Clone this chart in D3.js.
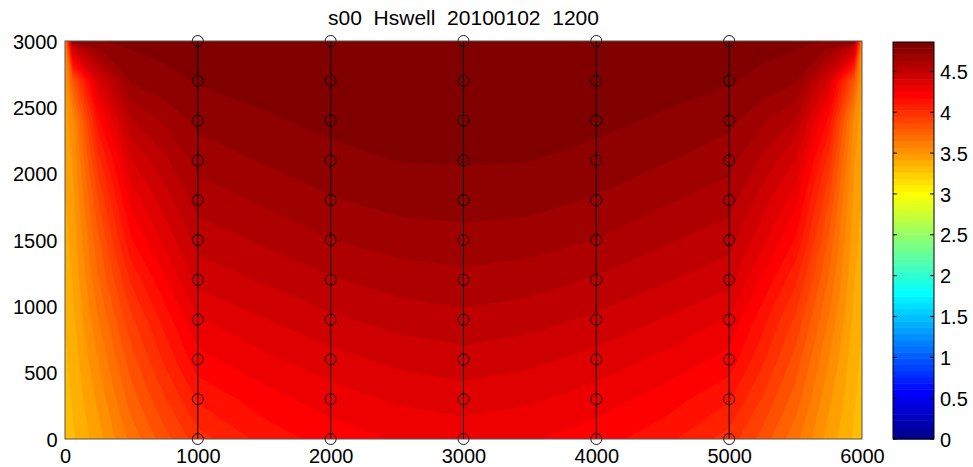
<!DOCTYPE html>
<html>
<head>
<meta charset="utf-8">
<script src="https://cdn.jsdelivr.net/npm/d3@7"></script>
<style>
body { margin: 0; background: #fff; }
text { font-family: "Liberation Sans", Arial, sans-serif; fill: #000; }
</style>
</head>
<body>
<svg id="chart" width="973" height="467"></svg>
<script>
var title = "s00  Hswell  20100102  1200";

// grid the field was read on (x columns, y rows)
var gridX = [0, 60, 250, 500, 750, 1000, 1500, 2000, 2500, 3000, 3500, 4000, 4500, 5000, 5250, 5500, 5750, 5940, 6000];
var gridY = [0, 300, 600, 900, 1200, 1500, 1800, 2100, 2400, 2700, 2940, 3000];

// Hswell values, one row per gridY (bottom to top)
var hswell = [
  [3.29, 3.33, 3.46, 3.67, 3.84, 3.99, 4.13, 4.21, 4.26, 4.28, 4.26, 4.21, 4.13, 3.99, 3.84, 3.67, 3.46, 3.33, 3.29],
  [3.31, 3.35, 3.51, 3.76, 3.94, 4.11, 4.22, 4.29, 4.34, 4.365, 4.34, 4.29, 4.22, 4.11, 3.94, 3.76, 3.51, 3.35, 3.31],
  [3.325, 3.37, 3.57, 3.84, 4.04, 4.225, 4.31, 4.375, 4.425, 4.45, 4.425, 4.375, 4.31, 4.225, 4.04, 3.84, 3.57, 3.37, 3.325],
  [3.345, 3.395, 3.64, 3.93, 4.13, 4.32, 4.40, 4.465, 4.51, 4.535, 4.51, 4.465, 4.40, 4.32, 4.13, 3.93, 3.64, 3.395, 3.345],
  [3.37, 3.42, 3.71, 4.04, 4.24, 4.43, 4.49, 4.547, 4.59, 4.61, 4.59, 4.547, 4.49, 4.43, 4.24, 4.04, 3.71, 3.42, 3.37],
  [3.39, 3.445, 3.78, 4.17, 4.35, 4.51, 4.57, 4.63, 4.665, 4.68, 4.665, 4.63, 4.57, 4.51, 4.35, 4.17, 3.78, 3.445, 3.39],
  [3.41, 3.47, 3.87, 4.28, 4.44, 4.59, 4.645, 4.70, 4.735, 4.745, 4.735, 4.70, 4.645, 4.59, 4.44, 4.28, 3.87, 3.47, 3.41],
  [3.43, 3.50, 3.99, 4.40, 4.54, 4.66, 4.715, 4.765, 4.785, 4.79, 4.785, 4.765, 4.715, 4.66, 4.54, 4.40, 3.99, 3.50, 3.43],
  [3.45, 3.55, 4.15, 4.55, 4.645, 4.73, 4.775, 4.80, 4.81, 4.815, 4.81, 4.80, 4.775, 4.73, 4.645, 4.55, 4.15, 3.55, 3.45],
  [3.47, 3.80, 4.40, 4.72, 4.765, 4.79, 4.81, 4.82, 4.83, 4.835, 4.83, 4.82, 4.81, 4.79, 4.765, 4.72, 4.40, 3.80, 3.47],
  [3.49, 4.45, 4.70, 4.785, 4.80, 4.815, 4.83, 4.835, 4.84, 4.845, 4.84, 4.835, 4.83, 4.815, 4.80, 4.785, 4.70, 4.45, 3.49],
  [3.50, 4.76, 4.78, 4.80, 4.81, 4.825, 4.835, 4.84, 4.845, 4.85, 4.845, 4.84, 4.835, 4.825, 4.81, 4.80, 4.78, 4.76, 3.50]
];

// transects and output stations
var lineX = [1000, 2000, 3000, 4000, 5000];
var stationY = [0, 300, 600, 900, 1200, 1500, 1800, 2100, 2400, 2700, 3000];

var xTicks = [0, 1000, 2000, 3000, 4000, 5000, 6000];
var yTicks = [0, 500, 1000, 1500, 2000, 2500, 3000];
var cbTicks = [0, 0.5, 1, 1.5, 2, 2.5, 3, 3.5, 4, 4.5];
var zMax = 4.86;
var nColors = 64;

// matlab jet(64), i = 1..64
function jet(i) {
	function u(k) {
		if (k < 1 || k > 47) return 0;
		if (k <= 16) return k / 16;
		if (k <= 31) return 1;
		return (48 - k) / 16;
	}
	return d3.rgb(Math.round(u(i - 24) * 255), Math.round(u(i - 8) * 255), Math.round(u(i + 8) * 255)).formatHex();
}

var svg = d3.select("#chart");
var plot = { left: 65, right: 862, top: 41, bottom: 439 };
var cbar = { left: 893, right: 934, top: 42, bottom: 439 };

var x = d3.scaleLinear().domain([0, 6000]).range([plot.left, plot.right]);
var y = d3.scaleLinear().domain([0, 3000]).range([plot.bottom, plot.top]);
var cb = d3.scaleLinear().domain([0, zMax]).range([cbar.bottom, cbar.top]);

svg.append("defs").append("clipPath").attr("id", "plotclip")
	.append("rect")
	.attr("x", plot.left).attr("y", plot.top)
	.attr("width", plot.right - plot.left).attr("height", plot.bottom - plot.top);

// filled contours
var nx = gridX.length, ny = gridY.length;
var values = [];
hswell.forEach(function(row) {
	row.forEach(function(v) { values.push(v); });
});
var dz = zMax / nColors;
var levels = d3.range(nColors).map(function(k) { return k * dz; });
var contours = d3.contours().size([nx, ny]).thresholds(levels)(values);

var ix = d3.scaleLinear().domain(d3.range(nx)).range(gridX).clamp(true);
var iy = d3.scaleLinear().domain(d3.range(ny)).range(gridY).clamp(true);
var proj = d3.geoTransform({
	point: function(px, py) {
		this.stream.point(x(ix(px - 0.5)), y(iy(py - 0.5)));
	}
});
var path = d3.geoPath(proj);

svg.append("g").attr("clip-path", "url(#plotclip)")
	.selectAll("path").data(contours).enter().append("path")
	.attr("d", path)
	.attr("fill-rule", "evenodd")
	.attr("fill", function(d, k) { return jet(k + 1); })
	.attr("stroke", function(d, k) { return jet(k + 1); })
	.attr("stroke-width", 0.4);

// transect lines and stations
var line = d3.line()
	.x(function(d) { return x(d[0]); })
	.y(function(d) { return y(d[1]); });

var tr = svg.append("g");
lineX.forEach(function(lx) {
	var pts = stationY.map(function(sy) { return [lx, sy]; });
	tr.append("path").attr("d", line(pts))
		.attr("fill", "none").attr("stroke", "#000").attr("stroke-width", 1);
	tr.selectAll(null).data(pts).enter().append("circle")
		.attr("cx", function(d) { return x(d[0]); })
		.attr("cy", function(d) { return y(d[1]); })
		.attr("r", 5.5)
		.attr("fill", "none").attr("stroke", "#000").attr("stroke-width", 0.9);
});

// axes box
svg.append("rect")
	.attr("x", plot.left).attr("y", plot.top)
	.attr("width", plot.right - plot.left).attr("height", plot.bottom - plot.top)
	.attr("fill", "none").attr("stroke", "#555").attr("stroke-width", 1);

var xAxis = svg.append("g").attr("transform", "translate(0," + plot.bottom + ")")
	.call(d3.axisBottom(x).tickValues(xTicks).tickSize(0).tickPadding(10).tickFormat(d3.format("d")));
var yAxis = svg.append("g").attr("transform", "translate(" + plot.left + ",0)")
	.call(d3.axisLeft(y).tickValues(yTicks).tickSize(0).tickPadding(7.5).tickFormat(d3.format("d")));
[xAxis, yAxis].forEach(function(a) {
	a.select(".domain").remove();
	a.selectAll("text").attr("font-size", 20).attr("font-family", "Liberation Sans, Arial, sans-serif").attr("fill", "#000");
});
yAxis.selectAll("text").attr("dy", "0.36em");

// colorbar
svg.append("g").selectAll("rect").data(d3.range(1, nColors + 1)).enter().append("rect")
	.attr("x", cbar.left)
	.attr("width", cbar.right - cbar.left)
	.attr("y", function(i) { return cb(i * dz); })
	.attr("height", function(i) { return cb((i - 1) * dz) - cb(i * dz) + 0.5; })
	.attr("fill", function(i) { return jet(i); });

svg.append("rect")
	.attr("x", cbar.left).attr("y", cbar.top)
	.attr("width", cbar.right - cbar.left).attr("height", cbar.bottom - cbar.top)
	.attr("fill", "none").attr("stroke", "#000").attr("stroke-width", 1);

var cbt = svg.append("g");
cbTicks.forEach(function(t) {
	cbt.append("line").attr("x1", cbar.left).attr("x2", cbar.left + 4)
		.attr("y1", cb(t)).attr("y2", cb(t)).attr("stroke", "#000");
	cbt.append("line").attr("x1", cbar.right - 4).attr("x2", cbar.right)
		.attr("y1", cb(t)).attr("y2", cb(t)).attr("stroke", "#000");
});
var cAxis = svg.append("g").attr("transform", "translate(" + cbar.right + ",0)")
	.call(d3.axisRight(cb).tickValues(cbTicks).tickSize(0).tickPadding(6).tickFormat(function(d) { return String(d); }));
cAxis.select(".domain").remove();
cAxis.selectAll("text").attr("font-size", 20).attr("font-family", "Liberation Sans, Arial, sans-serif").attr("fill", "#000").attr("dy", "0.36em");

// title (double spaces kept)
svg.append("text")
	.attr("x", (plot.left + plot.right) / 2)
	.attr("y", 25)
	.attr("text-anchor", "middle")
	.attr("font-size", 21)
	.attr("xml:space", "preserve")
	.style("white-space", "pre")
	.text(title);
</script>
</body>
</html>
